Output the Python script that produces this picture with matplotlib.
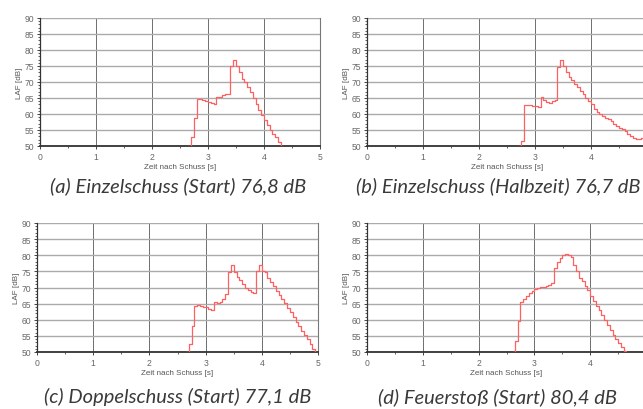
import numpy as np
import matplotlib.pyplot as plt
from matplotlib.ticker import MultipleLocator

# LAF-Pegel in 50-ms-Schritten, Startzeit je Messung
step = 0.05

start_a = 2.65
laf_a = [50.0, 52.7, 58.6, 64.7, 64.6, 64.3, 64.0, 63.8, 63.5, 63.2, 65.3, 65.2,
         66.0, 66.2, 66.4, 75.0, 77.0, 75.0, 73.0, 71.0, 70.0, 68.3, 66.8, 64.9,
         63.1, 61.4, 59.7, 58.1, 56.6, 55.1, 53.8, 52.7, 51.1, 50.0]

start_b = 2.70
laf_b = [50.0, 51.5, 62.8, 62.7, 62.7, 62.6, 62.6, 62.2, 65.4, 64.3, 63.6, 63.5,
         64.0, 64.3, 74.6, 77.0, 75.0, 73.0, 71.6, 70.5, 69.4, 68.3, 67.2, 66.2,
         65.0, 64.0, 63.0, 61.5, 60.6, 60.0, 59.3, 58.8, 58.3, 57.9, 57.0, 56.2,
         55.6, 55.3, 54.8, 53.8, 53.0, 52.4, 52.2, 52.2, 52.6, 52.6, 52.6]

start_c = 2.65
laf_c = [50.0, 52.5, 58.2, 64.4, 64.6, 64.3, 64.0, 63.8, 63.4, 63.0, 65.4, 65.3,
         65.5, 66.5, 68.0, 74.7, 77.0, 74.8, 73.3, 72.2, 71.0, 70.0, 69.3, 68.7,
         68.3, 75.0, 77.0, 75.0, 74.8, 72.8, 71.6, 70.4, 69.0, 67.8, 66.4, 65.1,
         63.6, 62.3, 60.7, 59.4, 58.2, 56.6, 55.3, 54.0, 52.5, 51.0, 50.0]

start_d = 2.60
laf_d = [50.0, 53.4, 59.7, 65.4, 66.5, 67.5, 68.3, 68.9, 69.6, 70.0, 70.2, 70.3,
         70.5, 70.9, 71.4, 76.0, 77.9, 79.0, 80.2, 80.4, 80.2, 79.5, 77.1, 75.1,
         72.9, 71.9, 70.6, 69.1, 67.5, 65.9, 64.4, 63.0, 61.5, 59.9, 58.4, 56.9,
         55.3, 54.0, 52.7, 51.4, 50.3, 50.0]

captions = ["(a) Einzelschuss (Start) 76,8 dB",
            "(b) Einzelschuss (Halbzeit) 76,7 dB",
            "(c) Doppelschuss (Start) 77,1 dB",
            "(d) Feuerstoß (Start) 80,4 dB"]

x_ticks = [0, 1, 2, 3, 4, 5]

panels = [(start_a, laf_a), (start_b, laf_b), (start_c, laf_c), (start_d, laf_d)]

W, H = 643, 410
fig = plt.figure(figsize=(W / 100, H / 100), dpi=100)

# Achsen in Pixeln: links (t=0), oben (90 dB), Breite, Hoehe
boxes = [(40, 19, 280, 128), (367, 19, 280, 128),
         (37, 224, 281, 129), (367, 224, 279, 129)]
cap_pos = [(178, 186), (498, 186), (178, 397), (498, 397)]
# rechte Spalte ist im Original am Rand abgeschnitten -> "5" nicht sichtbar
cut_right = [False, True, False, True]

for (t0, vals), (x, y, w, h), cap, (cx, cy), cut in zip(panels, boxes, captions,
                                                        cap_pos, cut_right):
    ax = fig.add_axes([x / W, 1 - (y + h) / H, w / W, h / H])
    t = t0 + step * np.arange(len(vals))
    ax.step(t, vals, where="post", color="#ff6060", lw=0.9, zorder=3)
    ax.set_xlim(0, 5)
    ax.set_ylim(50, 90)
    ax.set_xticks(x_ticks)
    ax.set_xticklabels([str(v) if not (cut and v == 5) else "" for v in x_ticks])
    ax.xaxis.set_minor_locator(MultipleLocator(0.5))
    ax.yaxis.set_major_locator(MultipleLocator(5))
    ax.yaxis.set_minor_locator(MultipleLocator(1))
    ax.grid(axis="x", which="major", color="#6e6e6e", lw=0.7)
    ax.grid(axis="y", which="major", color="#ababab", lw=1.0)
    ax.set_axisbelow(True)
    ax.spines["top"].set_visible(False)
    ax.spines["right"].set_color("#777777")
    ax.spines["right"].set_linewidth(0.8)
    ax.spines["left"].set_color("#333333")
    ax.spines["left"].set_linewidth(0.9)
    ax.spines["bottom"].set_color("#333333")
    ax.spines["bottom"].set_linewidth(1.3)
    ax.tick_params(which="major", length=2.5, width=0.7, color="#444444", pad=1.5)
    ax.tick_params(which="minor", length=1.5, width=0.6, color="#444444")
    for lab in ax.get_xticklabels() + ax.get_yticklabels():
        lab.set_fontfamily("Liberation Sans")
        lab.set_fontsize(6.2)
        lab.set_color("#666666")
    ax.set_xlabel("Zeit nach Schuss [s]", fontsize=5.8, family="Liberation Sans",
                  color="#555555", labelpad=2)
    ax.set_ylabel("LAF [dB]", fontsize=5.8, family="Liberation Sans",
                  color="#555555", labelpad=1.5)
    fig.text(cx / W, 1 - cy / H, cap, ha="center", va="center",
             fontsize=14.5, style="italic", family="Lato", color="#3a3a3a")

fig.savefig("out.png", dpi=100)
